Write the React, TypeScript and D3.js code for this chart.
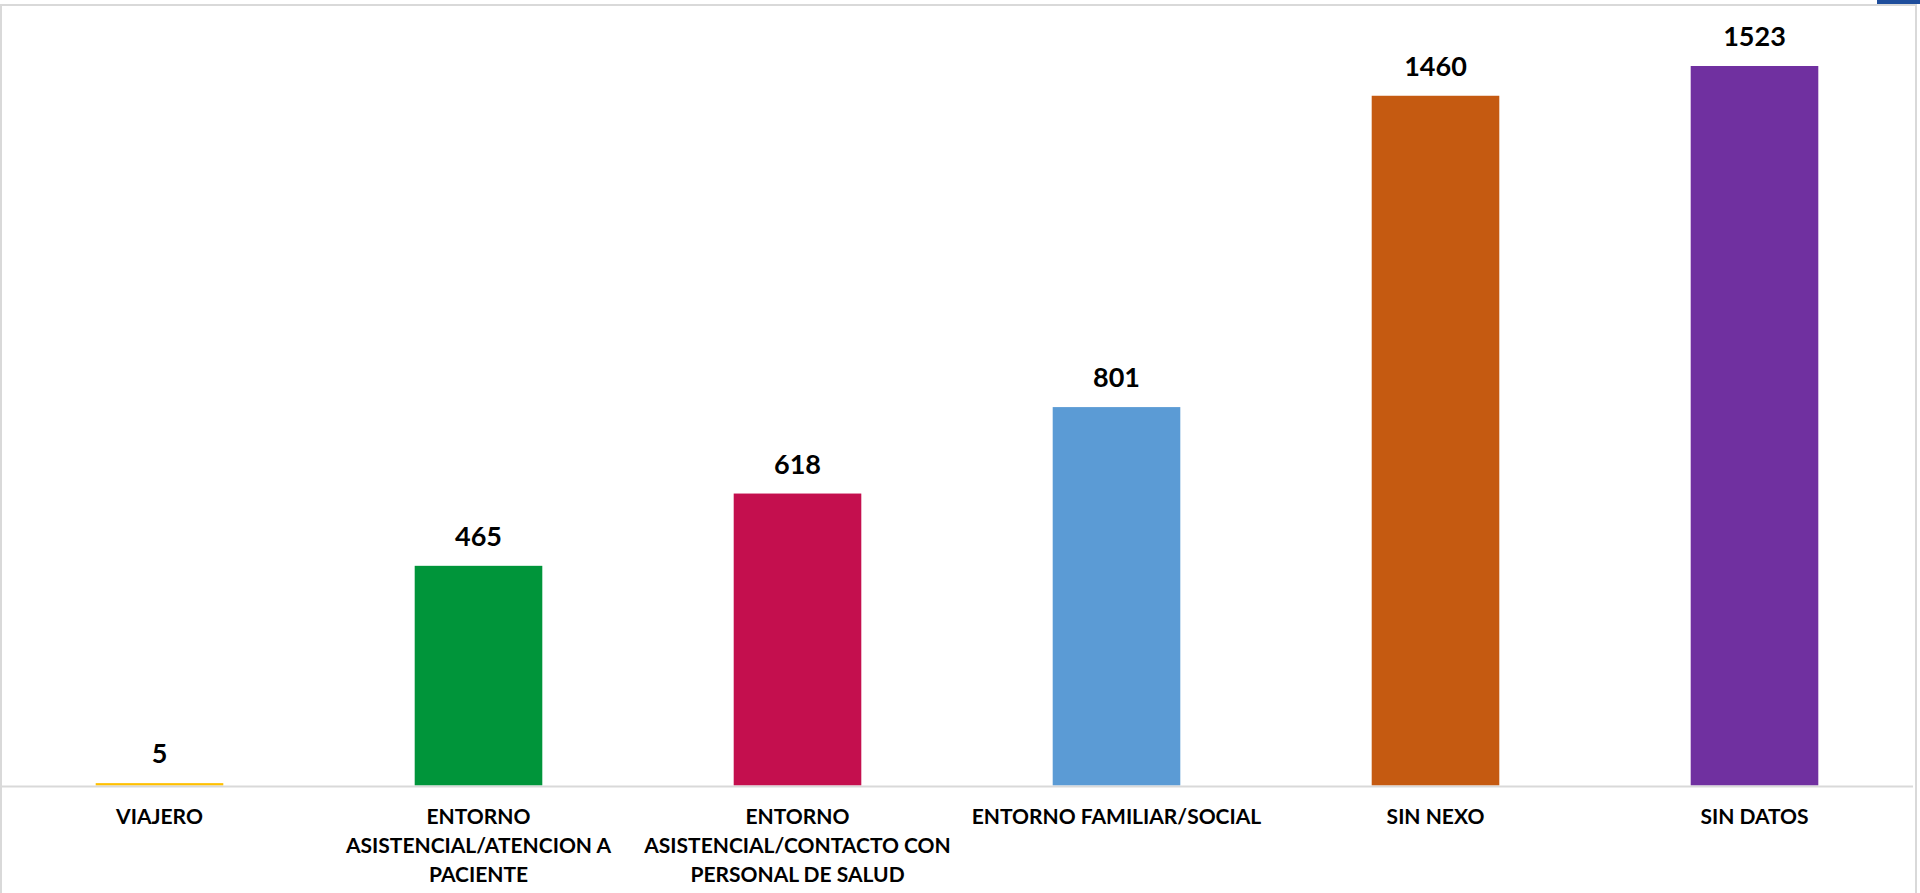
import * as React from "react";
import * as d3 from "d3";

const categories: string[] = [
  "VIAJERO",
  "ENTORNO\nASISTENCIAL/ATENCION A\nPACIENTE",
  "ENTORNO\nASISTENCIAL/CONTACTO CON\nPERSONAL DE SALUD",
  "ENTORNO FAMILIAR/SOCIAL",
  "SIN NEXO",
  "SIN DATOS",
];

const values: number[] = [5, 465, 618, 801, 1460, 1523];

const colors: string[] = [
  "#FFC000",
  "#00953A",
  "#C40F4E",
  "#5B9BD5",
  "#C55A11",
  "#7030A0",
];

function barChart(svgRef: React.RefObject<SVGSVGElement>) {
  const width = 1920;
  const height = 893;
  const baseline = 785.5;
  const top = 66;
  const font = "Lato, 'Open Sans', sans-serif";

  const svg = d3.select(svgRef.current);
  svg.selectAll("*").remove();
  svg.attr("width", width).attr("height", height);

  svg
    .append("rect")
    .attr("width", width)
    .attr("height", height)
    .attr("fill", "#ffffff");

  // chart frame (gray border)
  svg
    .append("path")
    .attr("d", `M1,${height} V5 H1916 V${height}`)
    .attr("fill", "none")
    .attr("stroke", "#d9d9d9")
    .attr("stroke-width", 2);

  // little blue tab at top right
  svg
    .append("rect")
    .attr("x", 1877)
    .attr("y", 0)
    .attr("width", 43)
    .attr("height", 4)
    .attr("fill", "#1F4E9C");

  /* Scales */
  const xScale = d3
    .scaleBand<string>()
    .domain(categories)
    .range([0, 1914])
    .paddingInner(0.6)
    .paddingOuter(0.3);

  const yScale = d3
    .scaleLinear()
    .domain([0, d3.max(values)!])
    .range([baseline, top]);

  const data = categories.map((c, i) => ({ name: c, value: values[i], color: colors[i] }));

  // bars
  svg
    .append("g")
    .selectAll("rect")
    .data(data)
    .enter()
    .append("rect")
    .attr("x", (d) => xScale(d.name)!)
    .attr("y", (d) => yScale(d.value))
    .attr("width", xScale.bandwidth())
    .attr("height", (d) => yScale(0) - yScale(d.value))
    .attr("fill", (d) => d.color);

  // baseline axis line
  svg
    .append("line")
    .attr("x1", 0)
    .attr("x2", 1913)
    .attr("y1", baseline + 1)
    .attr("y2", baseline + 1)
    .attr("stroke", "#d9d9d9")
    .attr("stroke-width", 2);

  // value labels
  svg
    .append("g")
    .selectAll("text")
    .data(data)
    .enter()
    .append("text")
    .attr("x", (d) => xScale(d.name)! + xScale.bandwidth() / 2)
    .attr("y", (d) => yScale(d.value) - 20)
    .attr("text-anchor", "middle")
    .attr("font-family", font)
    .attr("font-weight", "bold")
    .attr("font-size", 27)
    .attr("fill", "#000")
    .text((d) => d.value);

  // category labels
  const labels = svg
    .append("g")
    .selectAll("text")
    .data(data)
    .enter()
    .append("text")
    .attr("text-anchor", "middle")
    .attr("font-family", font)
    .attr("font-weight", "bold")
    .attr("font-size", 21)
    .attr("fill", "#000")
    .attr("x", (d) => xScale(d.name)! + xScale.bandwidth() / 2)
    .attr("y", 824);

  labels
    .selectAll("tspan")
    .data((d) => d.name.split("\n").map((t) => ({ t, x: xScale(d.name)! + xScale.bandwidth() / 2 })))
    .enter()
    .append("tspan")
    .attr("x", (d) => d.x)
    .attr("dy", (_d, i) => (i === 0 ? 0 : 29))
    .text((d) => d.t);
}

export default function App() {
  const svg = React.useRef<SVGSVGElement>(null);
  React.useEffect(() => {
    barChart(svg);
  }, [svg]);

  return (
    <svg
      ref={svg}
      style={{ position: "absolute", left: 0, top: 0, display: "block" }}
    />
  );
}
